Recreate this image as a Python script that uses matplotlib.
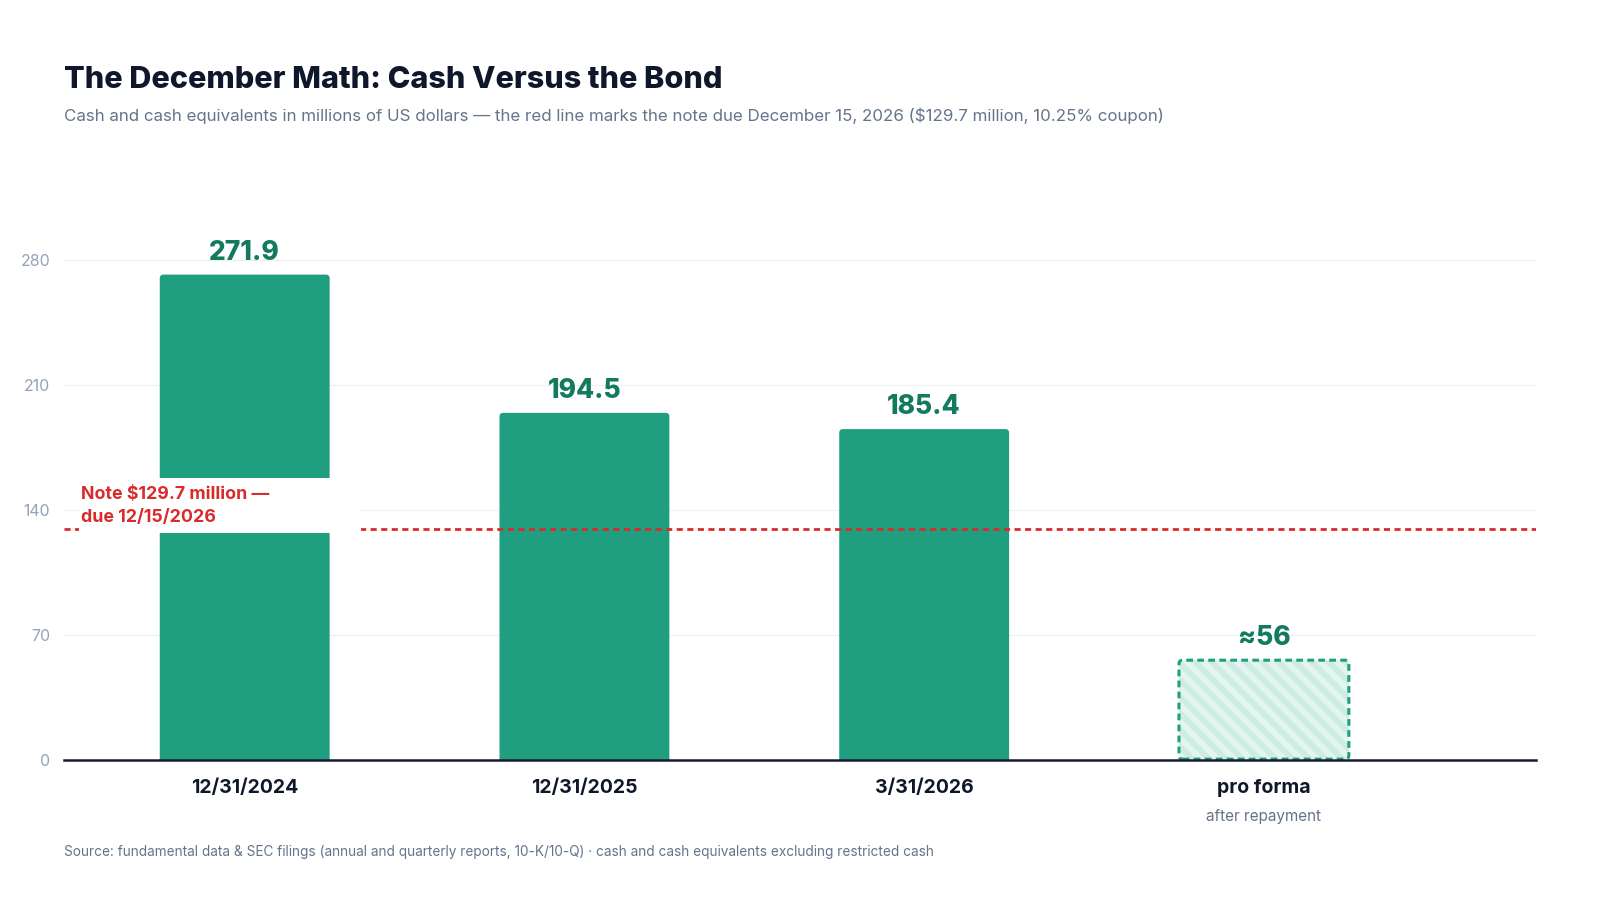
import matplotlib
matplotlib.use("Agg")
import matplotlib.pyplot as plt
from matplotlib.patches import FancyBboxPatch, Rectangle

# data
categories = ['12/31/2024', '12/31/2025', '3/31/2026', 'pro forma']
sublabels = ['', '', '', 'after repayment']
cash = [271.9, 194.5, 185.4, 56]
value_labels = ['271.9', '194.5', '185.4', '≈56']
note_value = 129.7
yticks = [0, 70, 140, 210, 280]

plt.rcParams['font.family'] = ['Inter', 'DejaVu Sans']
plt.rcParams['hatch.linewidth'] = 4.2

green = '#1f9e80'
dark_green = '#137a5e'
red = '#d92b2b'
ink = '#0f172a'
grey = '#64748b'
tick_grey = '#94a3b8'

fig = plt.figure(figsize=(16, 9), dpi=100, facecolor='white')
ax = fig.add_axes([64.3/1600, 139.8/900, 1471.4/1600, 607.2/900])
ax.set_xlim(-0.531, 3.80)
ax.set_ylim(0, 340)

bw = 0.5
asp = 339.8/1.786  # px per x unit / px per y unit, for round corners
for i, v in enumerate(cash):
    if i < 3:
        p = FancyBboxPatch((i - bw/2, -6), bw, v + 6,
                           boxstyle="round,pad=0,rounding_size=0.011",
                           mutation_aspect=asp, fc=green, ec='none', zorder=2)
        ax.add_patch(p)
    else:
        fill = FancyBboxPatch((i - bw/2, 0.6), bw, v - 0.6,
                              boxstyle="round,pad=0,rounding_size=0.011",
                              mutation_aspect=asp, fc='#e3f5ef', ec='#cdece2',
                              lw=0, hatch='\\\\', zorder=2)
        ax.add_patch(fill)
        edge = FancyBboxPatch((i - bw/2, 0.6), bw, v - 0.6,
                              boxstyle="round,pad=0,rounding_size=0.011",
                              mutation_aspect=asp, fc='none', ec=green,
                              lw=2.2, ls=(0, (2.2, 1.4)), zorder=3)
        ax.add_patch(edge)
    ax.annotate(value_labels[i], (i, v), xytext=(0, 6.5), textcoords='offset points',
                ha='center', va='bottom', fontsize=19, fontweight=800,
                color=dark_green, zorder=5)

# note line with white label box
ax.axhline(note_value, color=red, lw=2, ls=(0, (2.2, 1.6)), zorder=3)
ax.add_patch(Rectangle((-0.488, note_value - 2.3), 0.83, 30.8, fc='white',
                       ec='none', zorder=4))
ax.text(-0.483, note_value + 12.6, 'Note $129.7 million —\ndue 12/15/2026', ha='left',
        va='center', fontsize=12.8, fontweight='bold', color=red, zorder=5,
        linespacing=1.42)

# axes styling
ax.set_yticks(yticks)
ax.set_yticklabels([str(t) for t in yticks])
ax.tick_params(axis='y', length=0, pad=10, labelsize=11.4, labelcolor=tick_grey)
ax.grid(axis='y', color='#eef0f3', lw=1, zorder=0)
ax.set_axisbelow(True)
ax.set_xticks(range(len(categories)))
ax.set_xticklabels(categories, fontsize=14, fontweight='bold', color=ink)
ax.tick_params(axis='x', length=0, pad=13.5)
for i, s in enumerate(sublabels):
    if s:
        ax.annotate(s, (i, 0), xytext=(0, -40.5), textcoords='offset points',
                    ha='center', va='center', fontsize=11, color=grey,
                    annotation_clip=False)
for s in ['top', 'right', 'left']:
    ax.spines[s].set_visible(False)
ax.spines['bottom'].set_color('#1a1a2e')
ax.spines['bottom'].set_linewidth(1.8)
ax.spines['bottom'].set_zorder(6)

fig.text(64.3/1600, 1 - 79.5/900, 'The December Math: Cash Versus the Bond', ha='left',
         va='center', fontsize=22, fontweight=800, color=ink)
fig.text(64.3/1600, 1 - 115.3/900,
         'Cash and cash equivalents in millions of US dollars — the red line marks the note due '
         'December 15, 2026 ($129.7 million, 10.25% coupon)',
         ha='left', va='center', fontsize=12.2, color=grey)
fig.text(64.3/1600, 1 - 852/900,
         'Source: fundamental data & SEC filings (annual and quarterly reports, 10-K/10-Q) · '
         'cash and cash equivalents excluding restricted cash',
         ha='left', va='center', fontsize=9.8, color=grey)

fig.savefig('out.png', dpi=100, facecolor='white')
